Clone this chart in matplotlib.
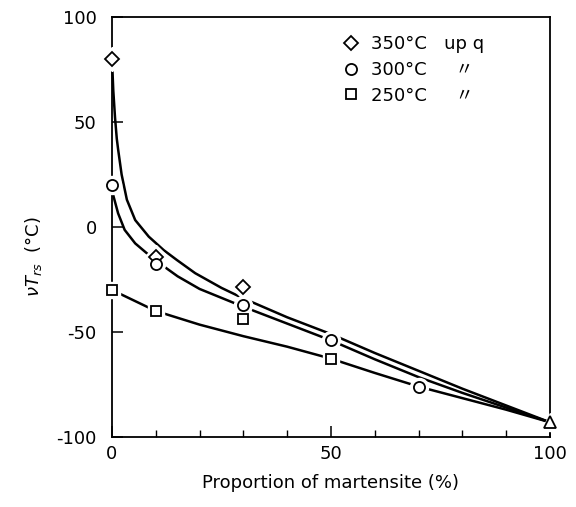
import numpy as np
import matplotlib
matplotlib.use('Agg')
import matplotlib.pyplot as plt

# ============================== Data ============================== #
# measured points
x350 = [0, 10, 30]
y350 = [80, -14.5, -28.5]
x300 = [0, 10, 30, 50, 70]
y300 = [20, -17.5, -37, -54, -76]
x250 = [0, 10, 30, 50]
y250 = [-30, -40, -44, -63]
x_mart = [100]
y_mart = [-93]

# hand drawn trend curves
c350_x = [0, 0.3, 0.7, 1.1, 1.4, 2.2, 3.4, 5.3, 8.4, 11.8, 14.8, 19, 25, 30, 40, 50, 60, 70, 80, 90, 100]
c350_y = [80, 65, 52, 42, 37, 25, 13, 3.3, -4.6, -11, -15.7, -22, -29, -34, -43, -51, -60, -68.5, -77, -85, -93]
c300_x = [0, 0.3, 1.4, 2.9, 5.3, 8.4, 10, 15, 20, 30, 40, 50, 60, 70, 80, 90, 100]
c300_y = [20, 15, 6.5, -1.4, -7.8, -13.3, -16, -23.5, -29.5, -38, -46, -54, -63, -71.5, -79, -86, -93]
c250_x = [0, 10, 20, 30, 40, 50, 60, 70, 80, 90, 100]
c250_y = [-30, -40, -46.5, -52, -57, -62.7, -69.5, -76, -81.5, -87, -93]

labels = ['350°C   up q', '300°C     〃', '250°C     〃']

plt.rcParams['font.family'] = ['DejaVu Sans', 'Noto Sans CJK JP']
plt.rcParams['axes.unicode_minus'] = False

fig = plt.figure(figsize=(5.76, 5.07), dpi=100)
ax = fig.add_axes([0.1944, 0.1381, 0.7604, 0.8284])

for cx, cy in [(c350_x, c350_y), (c300_x, c300_y), (c250_x, c250_y)]:
    ax.plot(cx, cy, color='black', lw=1.8, zorder=2, clip_on=False)


def draw_marks(xs, ys, marker, ms, label=None):
    # white halo first so the curves stop short of the symbol
    ax.plot(xs, ys, ls='none', marker=marker, ms=ms + 5, mfc='white', mec='white',
            zorder=3, clip_on=False)
    ax.plot(xs, ys, ls='none', marker=marker, ms=ms, mfc='white', mec='black',
            mew=1.3, zorder=4, clip_on=False, label=label)


draw_marks(x350, y350, 'D', 7, labels[0])
draw_marks(x300, y300, 'o', 8, labels[1])
draw_marks(x250, y250, 's', 7, labels[2])
draw_marks(x_mart, y_mart, '^', 8)

ax.set_xlim(0, 100)
ax.set_ylim(-100, 100)
ax.set_xticks([0, 50, 100])
ax.set_xticks(np.arange(0, 101, 10), minor=True)
ax.set_yticks([-100, -50, 0, 50, 100])
ax.tick_params(which='major', direction='in', length=8, width=1.1, labelsize=13)
ax.tick_params(axis='x', which='major', pad=6)
ax.tick_params(axis='y', which='major', pad=11)
ax.tick_params(which='minor', direction='in', length=5, width=1.0)
for sp in ax.spines.values():
    sp.set_linewidth(1.3)

ax.set_xlabel('Proportion of martensite (%)', fontsize=13, labelpad=8)
ax.set_ylabel(r'$\nu T_{rs}$  (°C)', fontsize=13)
ax.yaxis.set_label_coords(-0.155, 0.43)

leg = ax.legend(loc='upper left', bbox_to_anchor=(0.525, 0.956), frameon=False,
                fontsize=13, handletextpad=0.6, labelspacing=0.42, handlelength=1.0,
                borderpad=0, borderaxespad=0)

fig.savefig('out.png', dpi=100)
